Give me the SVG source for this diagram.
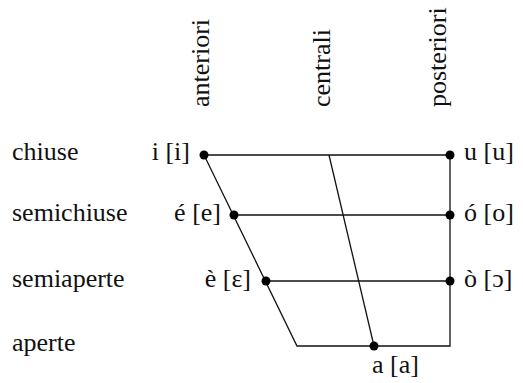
<svg xmlns="http://www.w3.org/2000/svg" width="523" height="383" viewBox="0 0 523 383" font-family="Liberation Serif, Times New Roman, Times, serif">
<style>
text{font-size:26px;fill:#111}
.ln{stroke:#111;stroke-width:1.3;fill:none}
.dot{fill:#000}
</style>
<rect width="523" height="383" fill="#fff"/>
<g id="headers">
<text transform="translate(209,107) rotate(-90)">anteriori</text>
<text transform="translate(330,107) rotate(-90)">centrali</text>
<text transform="translate(446,107) rotate(-90)">posteriori</text>
</g>
<g id="rows">
<text x="12" y="160">chiuse</text>
<text x="12" y="221">semichiuse</text>
<text x="12" y="287">semiaperte</text>
<text x="12" y="351">aperte</text>
</g>
<g id="connectors">
<path class="ln" d="M204,155 H450 V346 H297 Z"/>
<line class="ln" x1="234" y1="215" x2="450" y2="215"/>
<line class="ln" x1="266" y1="281" x2="450" y2="281"/>
<line class="ln" x1="329" y1="155" x2="374" y2="346"/>
</g>
<g id="v-i"><circle class="dot" cx="204" cy="155" r="4.5"/><text x="190" y="160" text-anchor="end">i [i]</text></g>
<g id="v-u"><circle class="dot" cx="450" cy="155" r="4.5"/><text x="464" y="160">u [u]</text></g>
<g id="v-e"><circle class="dot" cx="234" cy="215" r="4.5"/><text x="221" y="221" text-anchor="end">é [e]</text></g>
<g id="v-o"><circle class="dot" cx="450" cy="215" r="4.5"/><text x="464" y="221">ó [o]</text></g>
<g id="v-E"><circle class="dot" cx="266" cy="281" r="4.5"/><text x="251" y="287" text-anchor="end">è [ɛ]</text></g>
<g id="v-O"><circle class="dot" cx="450" cy="281" r="4.5"/><text x="464" y="287">ò [ɔ]</text></g>
<g id="v-a"><circle class="dot" cx="374" cy="346" r="4.5"/><text x="372" y="373">a [a]</text></g>
</svg>
